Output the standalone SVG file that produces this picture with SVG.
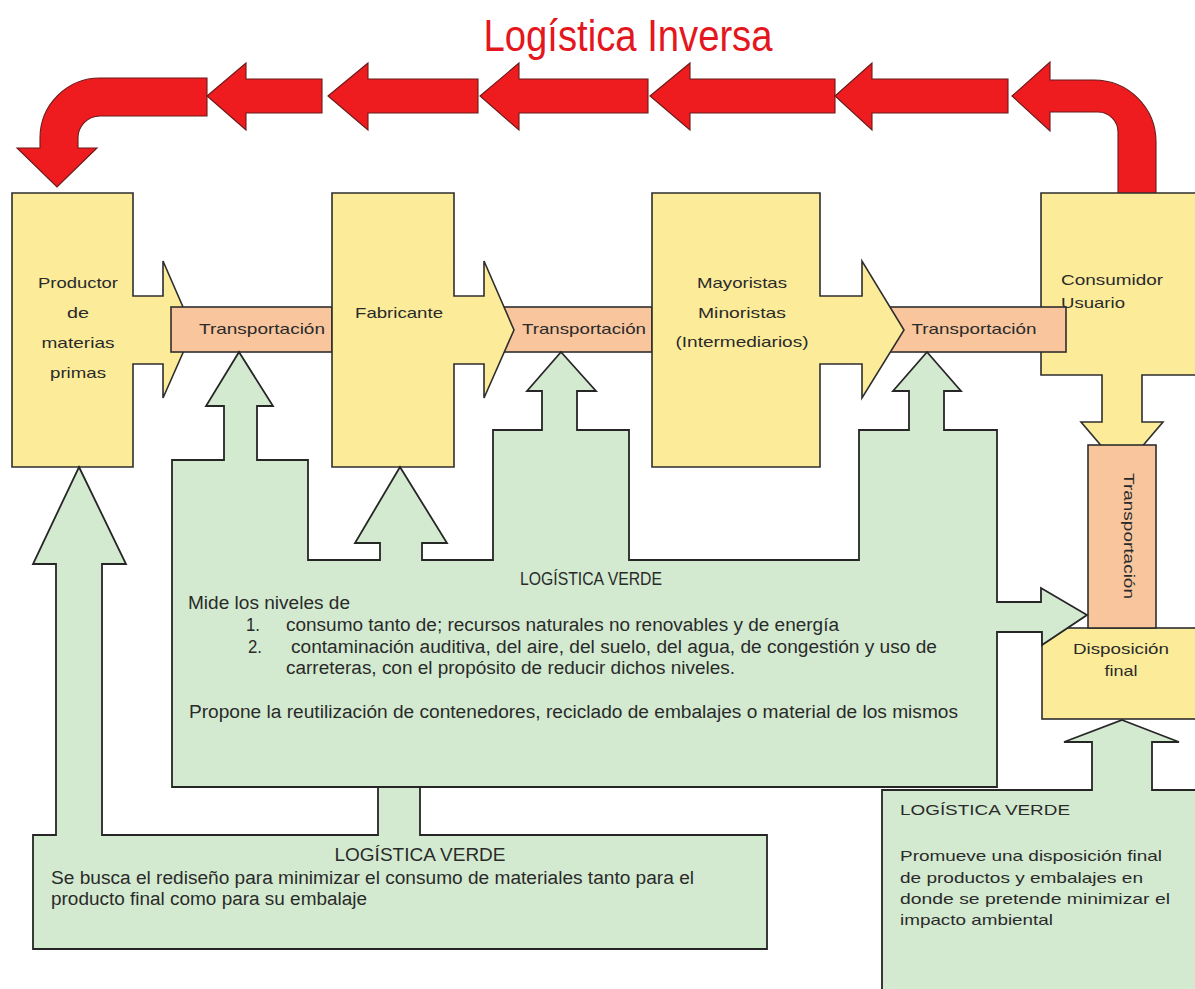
<svg xmlns="http://www.w3.org/2000/svg" width="1195" height="989" viewBox="0 0 1195 989">
  <style>
    .yel { fill: #fcec9a; stroke: #2e2e2e; stroke-width: 1.6; stroke-linejoin: miter; }
    .org { fill: #f8c59d; stroke: #2e2e2e; stroke-width: 1.6; }
    .grn { fill: #d3ead0; stroke: #262626; stroke-width: 1.8; stroke-linejoin: miter; }
    .red { fill: #ee1c1f; stroke: #6a1a1a; stroke-width: 1.1; }
    text { font-family: "Liberation Sans", Arial, sans-serif; fill: #2a2a2a; }
    .lbl { font-size: 15px; }
    .body { font-size: 18px; }
    .mid { text-anchor: middle; }
    .title { font-size: 44px; fill: #e3171d; text-anchor: middle; }
  </style>

  <rect x="0" y="0" width="1195" height="989" fill="#ffffff"/>

  <!-- title -->
  <text class="title" x="628" y="51" textLength="289" lengthAdjust="spacingAndGlyphs">Logística Inversa</text>

  <!-- reverse flow: chain of red arrows -->
  <g id="connectors">
    <path class="red" d="M207,78 L100,78 A60,60 0 0 0 40,138 L40,148 L17,148 L57,187 L97,148 L78,148 L78,138 A22,22 0 0 1 100,116 L207,116 Z"/>
    <polygon class="red" points="207,96 246,63 246,79 322,79 322,113 246,113 246,130"/>
    <polygon class="red" points="328,96 368,63 368,79 478,79 478,113 368,113 368,130"/>
    <polygon class="red" points="480,96 519,63 519,79 648,79 648,113 519,113 519,130"/>
    <polygon class="red" points="650,96 690,63 690,79 835,79 835,113 690,113 690,130"/>
    <polygon class="red" points="835,96 872,63 872,79 1008,79 1008,113 872,113 872,130"/>
    <path class="red" d="M1012,96 L1050,62 L1050,80 L1094,80 A62,62 0 0 1 1156,142 L1156,194 L1118,194 L1118,132 A20,20 0 0 0 1098,112 L1050,112 L1050,131 Z"/>
  </g>

  <!-- Productor de materias primas -->
  <g id="productor">
    <polygon class="yel" points="12,193 133,193 133,296 163,296 163,261 193,330 163,398 163,364 133,364 133,467 12,467"/>
    <text class="lbl mid" x="78" y="288" textLength="80" lengthAdjust="spacingAndGlyphs">Productor</text>
    <text class="lbl mid" x="78" y="318" textLength="22" lengthAdjust="spacingAndGlyphs">de</text>
    <text class="lbl mid" x="78" y="348" textLength="73" lengthAdjust="spacingAndGlyphs">materias</text>
    <text class="lbl mid" x="78" y="378" textLength="56" lengthAdjust="spacingAndGlyphs">primas</text>
  </g>

  <!-- Transportación 1 -->
  <g id="transporte-1">
    <rect class="org" x="171" y="307" width="161" height="45"/>
    <text class="lbl mid" x="262" y="334" textLength="126" lengthAdjust="spacingAndGlyphs">Transportación</text>
  </g>

  <!-- Transportación 2 -->
  <g id="transporte-2">
    <rect class="org" x="495" y="307" width="157" height="45"/>
    <text class="lbl mid" x="584" y="334" textLength="124" lengthAdjust="spacingAndGlyphs">Transportación</text>
  </g>

  <!-- Fabricante -->
  <g id="fabricante">
    <polygon class="yel" points="332,193 454,193 454,296 484,296 484,261 514,330 484,398 484,364 454,364 454,467 332,467"/>
    <text class="lbl mid" x="399" y="318" textLength="88" lengthAdjust="spacingAndGlyphs">Fabricante</text>
  </g>

  <!-- Consumidor / Usuario -->
  <g id="consumidor">
    <polygon class="yel" points="1041,193 1200,193 1200,375 1142,375 1142,422 1163,422 1122,470 1081,422 1102,422 1102,375 1041,375"/>
    <text class="lbl" x="1061" y="285" textLength="102" lengthAdjust="spacingAndGlyphs">Consumidor</text>
    <text class="lbl" x="1061" y="308" textLength="64" lengthAdjust="spacingAndGlyphs">Usuario</text>
  </g>

  <!-- Transportación 3 -->
  <g id="transporte-3">
    <rect class="org" x="875" y="307" width="191" height="45"/>
    <text class="lbl mid" x="974" y="334" textLength="125" lengthAdjust="spacingAndGlyphs">Transportación</text>
  </g>

  <!-- Mayoristas / Minoristas -->
  <g id="mayoristas">
    <polygon class="yel" points="652,193 820,193 820,296 862,296 862,261 904,330 862,398 862,364 820,364 820,467 652,467"/>
    <text class="lbl mid" x="742" y="288" textLength="90" lengthAdjust="spacingAndGlyphs">Mayoristas</text>
    <text class="lbl mid" x="742" y="318" textLength="88" lengthAdjust="spacingAndGlyphs">Minoristas</text>
    <text class="lbl mid" x="742" y="347" textLength="133" lengthAdjust="spacingAndGlyphs">(Intermediarios)</text>
  </g>

  <!-- Disposición final -->
  <g id="disposicion">
    <rect class="yel" x="1042" y="628" width="160" height="91"/>
    <text class="lbl mid" x="1121" y="654" textLength="96" lengthAdjust="spacingAndGlyphs">Disposición</text>
    <text class="lbl mid" x="1121" y="676" textLength="33" lengthAdjust="spacingAndGlyphs">final</text>
  </g>

  <!-- vertical Transportación -->
  <g id="transporte-4">
    <rect class="org" x="1088" y="445" width="68" height="183"/>
    <text class="lbl mid" transform="translate(1124,536) rotate(90)" x="0" y="0" textLength="126" lengthAdjust="spacingAndGlyphs">Transportación</text>
  </g>

  <!-- green logistics: central block -->
  <g id="verde-centro">
    <polygon class="grn" points="239,352 273,406 257,406 257,460 308,460 308,560 380,560 380,543 355,543 400,467 447,543 422,543 422,560 493,560 493,430 542,430 542,391 527,391 561,352 596,391 577,391 577,430 629,430 629,560 859,560 859,430 909,430 909,391 893,391 927,352 961,391 944,391 944,430 997,430 997,602 1041,602 1041,588 1087,615 1042,645 1042,632 997,632 997,787 172,787 172,460 224,460 224,406 206,406"/>
    <text class="body mid" x="591" y="585" textLength="142" lengthAdjust="spacingAndGlyphs">LOGÍSTICA VERDE</text>
    <text class="body" x="188" y="609" textLength="162" lengthAdjust="spacingAndGlyphs">Mide los niveles de</text>
    <text class="body" x="246" y="631" textLength="14" lengthAdjust="spacingAndGlyphs">1.</text>
    <text class="body" x="286" y="631" textLength="553" lengthAdjust="spacingAndGlyphs">consumo tanto de; recursos naturales no renovables y de energía</text>
    <text class="body" x="248" y="653" textLength="14" lengthAdjust="spacingAndGlyphs">2.</text>
    <text class="body" x="291" y="653" textLength="646" lengthAdjust="spacingAndGlyphs">contaminación auditiva, del aire, del suelo, del agua, de congestión y uso de</text>
    <text class="body" x="286" y="674" textLength="449" lengthAdjust="spacingAndGlyphs">carreteras, con el propósito de reducir dichos niveles.</text>
    <text class="body" x="189" y="718" textLength="769" lengthAdjust="spacingAndGlyphs">Propone la reutilización de contenedores, reciclado de embalajes o material de los mismos</text>
  </g>

  <!-- green logistics: product redesign block -->
  <g id="verde-izq">
    <polygon class="grn" points="79,467 126,564 102,564 102,835 378,835 378,787 420,787 420,835 767,835 767,949 33,949 33,835 56,835 56,564 33,564"/>
    <text class="body mid" x="420" y="861" textLength="171" lengthAdjust="spacingAndGlyphs">LOGÍSTICA VERDE</text>
    <text class="body" x="51" y="884" textLength="643" lengthAdjust="spacingAndGlyphs">Se busca el rediseño para minimizar el consumo de materiales tanto para el</text>
    <text class="body" x="51" y="905" textLength="316" lengthAdjust="spacingAndGlyphs">producto final como para su embalaje</text>
  </g>

  <!-- green logistics: final disposal block -->
  <g id="verde-der">
    <polygon class="grn" points="1122,720 1179,742 1152,742 1152,790 1200,790 1200,995 882,995 882,790 1092,790 1092,742 1064,742"/>
    <text class="lbl" x="900" y="815" textLength="170" lengthAdjust="spacingAndGlyphs">LOGÍSTICA VERDE</text>
    <text class="lbl" x="900" y="861" textLength="262" lengthAdjust="spacingAndGlyphs">Promueve una disposición final</text>
    <text class="lbl" x="900" y="883" textLength="243" lengthAdjust="spacingAndGlyphs">de productos y embalajes en</text>
    <text class="lbl" x="900" y="904" textLength="270" lengthAdjust="spacingAndGlyphs">donde se pretende minimizar  el</text>
    <text class="lbl" x="900" y="925" textLength="153" lengthAdjust="spacingAndGlyphs">impacto ambiental</text>
  </g>
</svg>
